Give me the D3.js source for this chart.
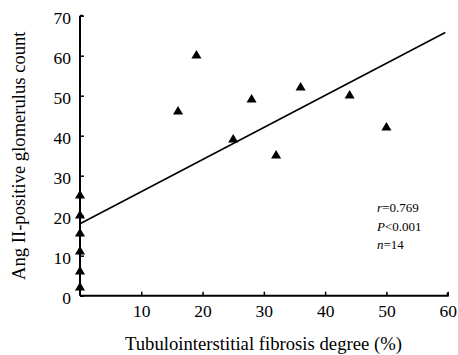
<!DOCTYPE html>
<html><head><meta charset="utf-8">
<script src="https://cdn.jsdelivr.net/npm/d3@7"></script>
<style>body{margin:0;background:#fff}svg{display:block}text{font-family:"Liberation Serif","Times New Roman",serif;fill:#000}</style>
</head><body>
<script>
const xValues = [0, 0, 0, 0, 0, 0, 16, 19, 25, 28, 32, 36, 44, 50];
const yValues = [2, 6, 11, 15.5, 20, 25, 46, 60, 39, 49, 35, 52, 50, 42];
const fitLine = [[0, 18], [59.6, 65.8]];
const xTicks = [10, 20, 30, 40, 50, 60];
const yTicks = [0, 10, 20, 30, 40, 50, 60, 70];
const stats = [["r", "=0.769"], ["P", "<0.001"], ["n", "=14"]];

const W = 458, H = 355;
const m = {l: 80, t: 15.7, r: 10.3, b: 59.3};
const svg = d3.select("body").append("svg").attr("width", W).attr("height", H);
const x = d3.scaleLinear().domain([0, 60]).range([m.l, W - m.r]);
const y = d3.scaleLinear().domain([0, 70]).range([H - m.b, m.t]);

const xa = svg.append("g").attr("transform", `translate(0,${y(0)})`)
  .call(d3.axisBottom(x).tickValues(xTicks).tickSizeInner(-4).tickSizeOuter(0));
const ya = svg.append("g").attr("transform", `translate(${x(0)},0)`)
  .call(d3.axisLeft(y).tickValues(yTicks).tickSizeInner(-4).tickSizeOuter(0).tickPadding(9));
[xa, ya].forEach(g => {
  g.select(".domain").attr("stroke", "#000").attr("stroke-width", 2);
  g.selectAll(".tick line").attr("stroke", "#000").attr("stroke-width", 1.5);
  g.selectAll(".tick text").style("font-family", '"Liberation Serif",serif').style("font-size", "17.5px").attr("fill", "#000");
});
xa.selectAll(".tick text").attr("y", 21.5).attr("dy", 0);
ya.selectAll(".tick text").attr("dy", "0.45em");
ya.select(".domain").attr("d", `M0,${y(70)}H3M0,${y(70)}V${y(0)}`);
xa.select(".domain").attr("d", `M${x(0)},0H${x(60)}V-3`);

svg.append("line")
  .attr("x1", x(fitLine[0][0])).attr("y1", y(fitLine[0][1]))
  .attr("x2", x(fitLine[1][0])).attr("y2", y(fitLine[1][1]))
  .attr("stroke", "#000").attr("stroke-width", 1.6);

const tri = d3.symbol().type(d3.symbolTriangle).size(44);
svg.append("g").selectAll("path").data(xValues.map((v, i) => [v, yValues[i]])).join("path")
  .attr("d", tri).attr("fill", "#000")
  .attr("transform", d => `translate(${x(d[0])},${y(d[1])})`);

const st = svg.append("g");
const statY = [212, 230.5, 248.5];
stats.forEach((s, i) => {
  const t = st.append("text").attr("x", 377).attr("y", statY[i]).style("font-size", "13px");
  t.append("tspan").style("font-style", "italic").text(s[0]);
  t.append("tspan").text(s[1]);
});

svg.append("text").attr("x", 263.5).attr("y", 350).attr("text-anchor", "middle")
  .style("font-size", "18.7px").text("Tubulointerstitial fibrosis degree (%)");
svg.append("text").attr("transform", `translate(25,${y(35)}) rotate(-90)`).attr("text-anchor", "middle")
  .style("font-size", "18.6px").text("Ang II-positive glomerulus count");
</script>
</body></html>
